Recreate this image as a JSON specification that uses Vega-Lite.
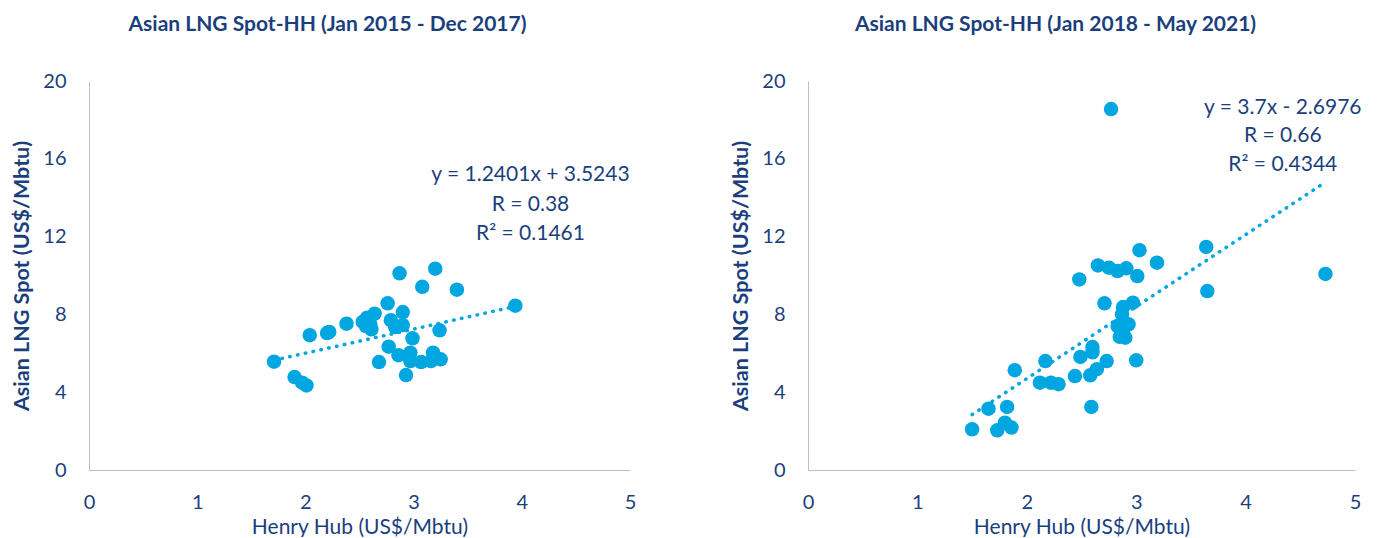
{
  "$schema": "https://vega.github.io/schema/vega-lite/v6.json",
  "padding": {"left": 11, "top": 14, "right": 0, "bottom": 0},
  "background": "white",
  "spacing": 94,
  "config": {
    "view": {"stroke": null},
    "font": "Lato",
    "axis": {
      "domainColor": "#BFBFBF",
      "domainWidth": 1,
      "ticks": false,
      "grid": false,
      "labelFlush": false,
      "labelColor": "#1B3F7D",
      "labelFont": "Lato",
      "labelFontSize": 20,
      "titleColor": "#1B3F7D",
      "titleFont": "Lato",
      "titleFontSize": 21
    },
    "title": {"font": "Lato", "fontSize": 21, "fontWeight": "bold", "color": "#1B3F7D", "anchor": "middle", "frame": "group", "offset": 36}
  },
  "datasets": {
    "p1": [
      {"hh": 1.71, "lng": 5.57}, {"hh": 1.90, "lng": 4.78}, {"hh": 1.97, "lng": 4.49}, {"hh": 2.01, "lng": 4.35},
      {"hh": 2.04, "lng": 6.93}, {"hh": 2.20, "lng": 7.04}, {"hh": 2.22, "lng": 7.10}, {"hh": 2.38, "lng": 7.52},
      {"hh": 2.53, "lng": 7.61}, {"hh": 2.57, "lng": 7.83}, {"hh": 2.64, "lng": 8.04}, {"hh": 2.61, "lng": 7.23},
      {"hh": 2.60, "lng": 7.50}, {"hh": 2.56, "lng": 7.40}, {"hh": 2.76, "lng": 8.57}, {"hh": 2.79, "lng": 7.70},
      {"hh": 2.83, "lng": 7.35}, {"hh": 2.90, "lng": 8.12}, {"hh": 2.90, "lng": 7.45}, {"hh": 2.87, "lng": 10.11},
      {"hh": 3.20, "lng": 10.35}, {"hh": 3.08, "lng": 9.42}, {"hh": 3.40, "lng": 9.27}, {"hh": 3.94, "lng": 8.45},
      {"hh": 3.24, "lng": 7.18}, {"hh": 2.99, "lng": 6.77}, {"hh": 2.77, "lng": 6.34}, {"hh": 2.68, "lng": 5.55},
      {"hh": 2.86, "lng": 5.90}, {"hh": 2.97, "lng": 6.03}, {"hh": 2.97, "lng": 5.60}, {"hh": 3.07, "lng": 5.55},
      {"hh": 3.18, "lng": 6.03}, {"hh": 3.25, "lng": 5.69}, {"hh": 2.93, "lng": 4.88}, {"hh": 3.16, "lng": 5.60}
    ],
    "p2": [
      {"hh": 3.03, "lng": 11.30}, {"hh": 3.64, "lng": 11.47}, {"hh": 3.19, "lng": 10.66}, {"hh": 2.65, "lng": 10.52},
      {"hh": 2.75, "lng": 10.40}, {"hh": 2.83, "lng": 10.23}, {"hh": 2.91, "lng": 10.37}, {"hh": 3.01, "lng": 9.97},
      {"hh": 2.48, "lng": 9.80}, {"hh": 3.65, "lng": 9.20}, {"hh": 2.71, "lng": 8.57}, {"hh": 2.97, "lng": 8.60},
      {"hh": 2.88, "lng": 8.38}, {"hh": 2.87, "lng": 8.00}, {"hh": 2.93, "lng": 7.49}, {"hh": 2.83, "lng": 7.40},
      {"hh": 2.88, "lng": 7.15}, {"hh": 2.90, "lng": 6.80}, {"hh": 2.85, "lng": 6.85}, {"hh": 3.00, "lng": 5.64},
      {"hh": 2.60, "lng": 6.32}, {"hh": 2.60, "lng": 6.05}, {"hh": 2.73, "lng": 5.60}, {"hh": 2.49, "lng": 5.81},
      {"hh": 2.17, "lng": 5.60}, {"hh": 1.89, "lng": 5.13}, {"hh": 2.64, "lng": 5.18}, {"hh": 2.58, "lng": 4.87},
      {"hh": 2.44, "lng": 4.83}, {"hh": 2.29, "lng": 4.41}, {"hh": 2.22, "lng": 4.49}, {"hh": 2.12, "lng": 4.49},
      {"hh": 2.59, "lng": 3.24}, {"hh": 1.65, "lng": 3.15}, {"hh": 1.82, "lng": 3.24}, {"hh": 1.50, "lng": 2.09},
      {"hh": 1.73, "lng": 2.04}, {"hh": 1.80, "lng": 2.43}, {"hh": 1.86, "lng": 2.18}, {"hh": 2.77, "lng": 18.56},
      {"hh": 4.73, "lng": 10.08}
    ],
    "t1": [{"hh": 1.71, "lng": 5.645}, {"hh": 3.94, "lng": 8.41}],
    "t2": [{"hh": 1.50, "lng": 2.85}, {"hh": 4.73, "lng": 14.80}],
    "a1": [
      {"hh": 4.08, "lng": 15.15, "label": "y = 1.2401x + 3.5243"},
      {"hh": 4.08, "lng": 13.65, "label": "R = 0.38"},
      {"hh": 4.08, "lng": 12.15, "label": "R² = 0.1461"}
    ],
    "a2": [
      {"hh": 4.34, "lng": 18.63, "label": "y = 3.7x - 2.6976"},
      {"hh": 4.34, "lng": 17.15, "label": "R = 0.66"},
      {"hh": 4.34, "lng": 15.66, "label": "R² = 0.4344"}
    ]
  },
  "hconcat": [
    {
      "width": 541,
      "height": 389,
      "title": {"text": "Asian LNG Spot-HH (Jan 2015 - Dec 2017)", "dx": -32},
      "layer": [
        {
          "data": {"name": "t1"},
          "mark": {"type": "line", "color": "#00A6E0", "strokeWidth": 3.5, "strokeDash": [0.5, 7.5], "strokeCap": "round"},
          "encoding": {
            "x": {"field": "hh", "type": "quantitative"},
            "y": {"field": "lng", "type": "quantitative"}
          }
        },
        {
          "data": {"name": "p1"},
          "mark": {"type": "circle", "color": "#00A6E0", "opacity": 1, "size": 210},
          "encoding": {
            "x": {"field": "hh", "type": "quantitative", "scale": {"domain": [0, 5]},
              "axis": {"values": [0, 1, 2, 3, 4, 5], "format": "d", "title": "Henry Hub (US$/Mbtu)", "labelPadding": 22, "titlePadding": 4, "titleFontWeight": "normal"}},
            "y": {"field": "lng", "type": "quantitative", "scale": {"domain": [0, 20]},
              "axis": {"values": [0, 4, 8, 12, 16, 20], "format": "d", "title": "Asian LNG Spot (US$/Mbtu)", "labelPadding": 23, "titlePadding": 9, "titleFontWeight": "bold", "titleFontSize": 21.5}}
          }
        },
        {
          "data": {"name": "a1"},
          "mark": {"type": "text", "align": "center", "baseline": "middle", "fontSize": 21, "color": "#1B3F7D", "font": "Lato"},
          "encoding": {
            "x": {"field": "hh", "type": "quantitative"},
            "y": {"field": "lng", "type": "quantitative"},
            "text": {"field": "label"}
          }
        }
      ]
    },
    {
      "width": 547,
      "height": 389,
      "title": {"text": "Asian LNG Spot-HH (Jan 2018 - May 2021)", "dx": -26},
      "layer": [
        {
          "data": {"name": "t2"},
          "mark": {"type": "line", "color": "#00A6E0", "strokeWidth": 3.5, "strokeDash": [0.5, 7.5], "strokeCap": "round"},
          "encoding": {
            "x": {"field": "hh", "type": "quantitative"},
            "y": {"field": "lng", "type": "quantitative"}
          }
        },
        {
          "data": {"name": "p2"},
          "mark": {"type": "circle", "color": "#00A6E0", "opacity": 1, "size": 210},
          "encoding": {
            "x": {"field": "hh", "type": "quantitative", "scale": {"domain": [0, 5]},
              "axis": {"values": [0, 1, 2, 3, 4, 5], "format": "d", "title": "Henry Hub (US$/Mbtu)", "labelPadding": 22, "titlePadding": 4, "titleFontWeight": "normal"}},
            "y": {"field": "lng", "type": "quantitative", "scale": {"domain": [0, 20]},
              "axis": {"values": [0, 4, 8, 12, 16, 20], "format": "d", "title": "Asian LNG Spot (US$/Mbtu)", "labelPadding": 23, "titlePadding": 9, "titleFontWeight": "bold", "titleFontSize": 21.5}}
          }
        },
        {
          "data": {"name": "a2"},
          "mark": {"type": "text", "align": "center", "baseline": "middle", "fontSize": 21, "color": "#1B3F7D", "font": "Lato"},
          "encoding": {
            "x": {"field": "hh", "type": "quantitative"},
            "y": {"field": "lng", "type": "quantitative"},
            "text": {"field": "label"}
          }
        }
      ]
    }
  ]
}
